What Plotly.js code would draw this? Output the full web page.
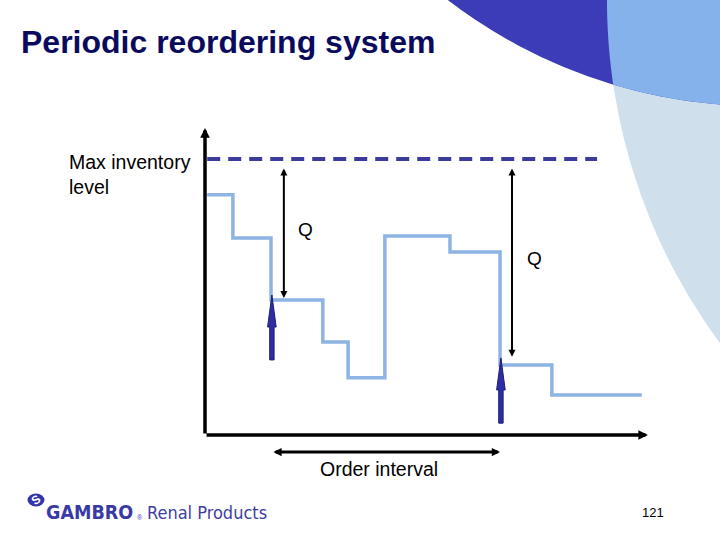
<!DOCTYPE html>
<html><head><meta charset="utf-8">
<script src="https://cdn.plot.ly/plotly-3.0.1.min.js"></script>
<style>html,body{margin:0;padding:0;background:#fff}</style>
</head><body><div id="chart" style="width:720px;height:540px"></div>
<script>
// ---------- data (time units 0..100, inventory units, max level = 100) ----------
const stockTimes  = [0.5, 6.3, 14.9, 26.6, 32.3, 40.6, 55.3, 66.6, 78.3, 98.6];
const stockLevels = [87.0, 71.4, 48.9, 33.7, 20.7, 72.1, 66.3, 25.4, 14.5, 14.5];
const maxLevel = 100;
const maxLineTimes = [0.5, 88.5];
const orderTimes   = [15.1, 66.8];   // order arrivals (blue arrows)
const arrivalBase  = [27.2, 4.3];
const arrivalTip   = [50.7, 27.9];
const qTimes       = [17.8, 69.3];   // Q measurement arrows
const qTopLevel    = 97.1;
const qLevels      = [49.6, 28.3];
const qLabels      = ['Q', 'Q'];
const qLabelTimes  = [22.6, 74.3];
const qLabelLevels = [74.6, 63.8];
const intervalStart = 15.1, intervalEnd = 66.6;
const xRange = [0, 100], yRange = [0, 111.2];

// ---------- geometry helpers (plot area in px) ----------
const PL = 205, PR = 648, PT = 128, PB = 435;
const W = 720, H = 540;
const pxX = px => (px - PL) / (PR - PL);
const pxY = py => (PB - py) / (PB - PT);
const unitX = (PR - PL) / (xRange[1] - xRange[0]);
const unitY = (PB - PT) / (yRange[1] - yRange[0]);

const FONT = 'Arial, "Liberation Sans", sans-serif';
const NARROW = '"Liberation Sans Narrow", "DejaVu Sans Condensed", Arial, sans-serif';

const traces = [];
traces.push({x: maxLineTimes, y: [maxLevel, maxLevel], mode: 'lines',
  line: {color: '#3B3B9C', width: 4, dash: '13px,8px'}, hoverinfo: 'skip'});
traces.push({x: stockTimes, y: stockLevels, mode: 'lines',
  line: {color: '#8DB4E3', width: 3.5, shape: 'hv'}, hoverinfo: 'skip'});

// block arrows for order arrivals
const shaftHalf = 2.2 / unitX, headHalf = 4.3 / unitX, headLen = 32 / unitY;
orderTimes.forEach((t, i) => {
  const b = arrivalBase[i], tip = arrivalTip[i], hb = tip - headLen;
  traces.push({
    x: [t - shaftHalf, t - shaftHalf, t - headHalf, t, t + headHalf, t + shaftHalf, t + shaftHalf, t - shaftHalf],
    y: [b, hb, hb, tip, hb, hb, b, b],
    mode: 'lines', fill: 'toself', fillcolor: '#2E2EA2',
    line: {color: '#1C1C78', width: 1}, hoverinfo: 'skip'
  });
});

// ---------- decorative circles ----------
const pale = {cx: 1185, cy: 0, r: 578};
const dark = {cx: 760, cy: -407, r: 513};
const paleX = y => pale.cx - Math.sqrt(pale.r * pale.r - (y - pale.cy) ** 2);
const darkY = x => dark.cy + Math.sqrt(dark.r * dark.r - (x - dark.cx) ** 2);
let lo = 0, hi = 250;
for (let k = 0; k < 60; k++) {
  const m = (lo + hi) / 2;
  if (m - darkY(paleX(m)) < 0) lo = m; else hi = m;
}
const Py = lo, Px = paleX(lo);
let pts = [];
for (let k = 0; k <= 40; k++) { const y = -20 + (Py + 20) * k / 40; pts.push([paleX(y), y]); }
for (let k = 1; k <= 40; k++) { const x = Px + (740 - Px) * k / 40; pts.push([x, darkY(x)]); }
pts.push([740, -20]);
const interPath = 'M' + pts.map(p => pxX(p[0]).toFixed(5) + ',' + pxY(p[1]).toFixed(5)).join('L') + 'Z';

const circ = (c, color) => ({type: 'circle', layer: 'below', xref: 'paper', yref: 'paper',
  xsizemode: 'pixel', ysizemode: 'pixel', xanchor: pxX(c.cx), yanchor: pxY(c.cy),
  x0: -c.r, x1: c.r, y0: -c.r, y1: c.r, fillcolor: color, line: {width: 0}});

const shapes = [
  circ(pale, '#CFE0EC'),
  circ(dark, '#3C3CB8'),
  {type: 'path', layer: 'below', xref: 'paper', yref: 'paper', path: interPath,
   fillcolor: '#86B2EB', line: {width: 0}},
  // logo mark
  {type: 'circle', xref: 'paper', yref: 'paper', xsizemode: 'pixel', ysizemode: 'pixel',
   xanchor: pxX(36), yanchor: pxY(500), x0: -8.5, x1: 8.5, y0: -6.5, y1: 6.5,
   fillcolor: '#3434AA', line: {width: 0}}
];

// ---------- annotations ----------
const arrow = (o) => Object.assign({text: '', showarrow: true, axref: 'x', ayref: 'y',
  arrowcolor: '#000', arrowhead: 2, arrowsize: 0.7, arrowwidth: 2}, o);
const txt = (px, py, text, font, extra) => Object.assign({xref: 'paper', yref: 'paper',
  x: pxX(px), y: pxY(py), xanchor: 'center', yanchor: 'middle', text: text,
  showarrow: false, font: font}, extra || {});
const ann = [];
// axes with arrowheads
ann.push(arrow({x: xRange[0], y: yRange[1], ax: xRange[0], ay: 0, arrowwidth: 3.5, arrowsize: 0.55}));
ann.push(arrow({x: xRange[1], y: 0, ax: xRange[0], ay: 0, arrowwidth: 3.5, arrowsize: 0.55}));
// Q arrows
qTimes.forEach((t, i) => {
  ann.push(arrow({x: t, y: qLevels[i], ax: t, ay: qTopLevel, arrowside: 'end+start',
    startarrowhead: 2, startarrowsize: 0.7}));
  ann.push({x: qLabelTimes[i], y: qLabelLevels[i], text: qLabels[i], showarrow: false,
    xanchor: 'center', yanchor: 'middle', font: {family: FONT, size: 19, color: '#000'}});
});
// order interval arrow
ann.push({text: '', showarrow: true, xref: 'x', yref: 'paper', x: intervalEnd, y: pxY(452),
  axref: 'x', ax: intervalStart, ayref: 'pixel', ay: 0, arrowcolor: '#000',
  arrowhead: 2, startarrowhead: 2, arrowside: 'end+start', arrowwidth: 3,
  arrowsize: 0.55, startarrowsize: 0.55});
ann.push(txt(379, 469, 'Order interval', {family: FONT, size: 19.5, color: '#000'}));
ann.push(txt(67, 174, 'Max inventory<br>level', {family: FONT, size: 19.5, color: '#000'},
  {xanchor: 'left', align: 'left'}));
ann.push(txt(653, 512, '121', {family: FONT, size: 13, color: '#000'}));
// logo text
ann.push(txt(36, 500, '<b>S</b>', {family: FONT, size: 12, color: '#fff'}, {textangle: -35}));
ann.push(txt(44, 512, '<b>GAMBRO</b>', {family: NARROW, size: 19.5, color: '#3A3AA6'}, {xanchor: 'left'}));
ann.push(txt(140, 517, '®', {family: FONT, size: 7, color: '#3A3AA6'}));
ann.push(txt(145, 512, 'Renal Products', {family: NARROW, size: 18, color: '#3E3EA2'}, {xanchor: 'left'}));

const layout = {
  width: W, height: H,
  margin: {l: PL, r: W - PR, t: PT, b: H - PB, autoexpand: false},
  paper_bgcolor: '#fff', plot_bgcolor: 'rgba(0,0,0,0)',
  showlegend: false, hovermode: false,
  title: {text: '<b>Periodic reordering system</b>', xref: 'container', yref: 'container',
    x: 21 / W, xanchor: 'left', y: 1 - 42 / H, yanchor: 'middle',
    font: {family: FONT, size: 32, color: '#0B0B5E'}},
  xaxis: {range: xRange, visible: false, fixedrange: true},
  yaxis: {range: yRange, visible: false, fixedrange: true},
  shapes: shapes, annotations: ann
};
Plotly.newPlot('chart', traces, layout, {staticPlot: true, displayModeBar: false});
</script></body></html>
